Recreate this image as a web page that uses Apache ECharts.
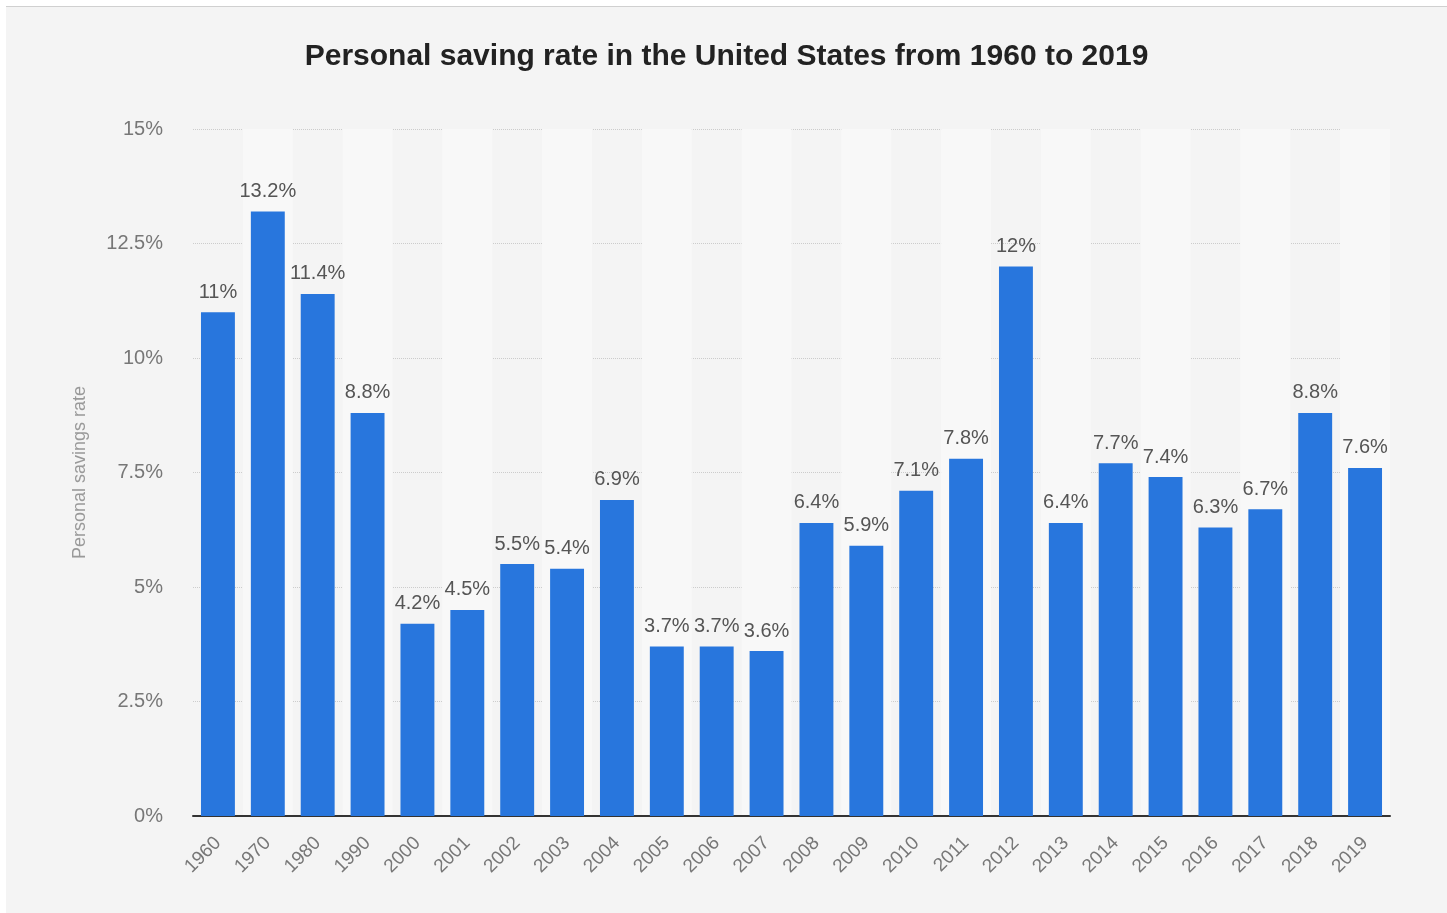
<!DOCTYPE html>
<html>
<head>
<meta charset="utf-8">
<script src="https://cdn.jsdelivr.net/npm/echarts@6/dist/echarts.min.js"></script>
<style>
  html, body { margin: 0; padding: 0; background: #fff; }
  #chart {
    position: absolute;
    left: 6px;
    top: 6px;
    width: 1441px;
    height: 907px;
    background: #f4f4f4;
    border-top: 1px solid #d0d0d0;
  }
</style>
</head>
<body>
<div id="chart"></div>
<script>
// years shown on the axis
const years = ['1960', '1970', '1980', '1990', '2000', '2001', '2002', '2003', '2004', '2005', '2006', '2007',
  '2008', '2009', '2010', '2011', '2012', '2013', '2014', '2015', '2016', '2017', '2018', '2019']
// personal saving rate, percent
const savingRate = [11, 13.2, 11.4, 8.8, 4.2, 4.5, 5.5, 5.4, 6.9, 3.7, 3.7, 3.6,
  6.4, 5.9, 7.1, 7.8, 12, 6.4, 7.7, 7.4, 6.3, 6.7, 8.8, 7.6]
const yTicks = [0, 2.5, 5, 7.5, 10, 12.5, 15]

const font = '"Liberation Sans", Arial, sans-serif'

const chart = echarts.init(document.getElementById('chart'))
chart.setOption({
  backgroundColor: '#f4f4f4',
  textStyle: { fontFamily: font },
  title: {
    text: 'Personal saving rate in the United States from 1960 to 2019',
    left: 'center',
    top: 30,
    textStyle: { fontSize: 30, fontWeight: 'bold', color: '#222', fontFamily: font },
  },
  grid: {
    left: 187,
    right: 57,
    top: 122,
    bottom: 98,
  },
  xAxis: {
    type: 'category',
    data: years,
    axisTick: { show: false },
    axisLine: { lineStyle: { color: '#333', width: 2 } },
    axisLabel: {
      rotate: 45,
      fontSize: 19,
      color: '#777',
      margin: 24,
      interval: 0,
    },
    splitArea: {
      show: true,
      areaStyle: { color: ['rgba(0,0,0,0)', '#f8f8f8'] },
    },
  },
  yAxis: {
    type: 'value',
    min: yTicks[0],
    max: yTicks[yTicks.length - 1],
    interval: 2.5,
    name: 'Personal savings rate',
    nameLocation: 'middle',
    nameGap: 104,
    nameTextStyle: { fontSize: 18, color: '#999' },
    axisLine: { show: false },
    axisTick: { show: false },
    axisLabel: {
      fontSize: 20,
      color: '#777',
      margin: 30,
      formatter: v => v + '%',
    },
    splitLine: { lineStyle: { color: '#ccc', type: 'dotted', width: 1 } },
  },
  series: [
    {
      name: 'Personal saving rate',
      type: 'bar',
      data: savingRate,
      barCategoryGap: '32%',
      itemStyle: { color: '#2876dd' },
      label: {
        show: true,
        position: 'top',
        distance: 10,
        fontSize: 20,
        color: '#555',
        formatter: p => p.value + '%',
      },
    },
  ],
})
</script>
</body>
</html>
